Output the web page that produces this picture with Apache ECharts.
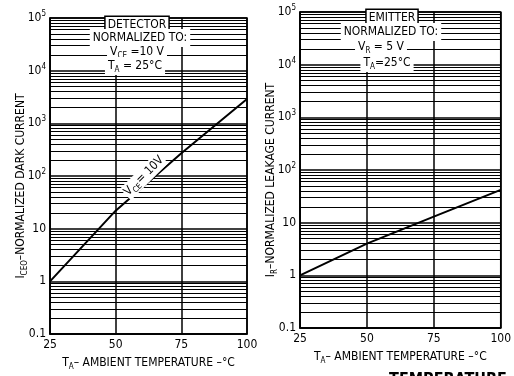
<!DOCTYPE html>
<html>
<head>
<meta charset="utf-8">
<script src="https://cdn.jsdelivr.net/npm/echarts@6/dist/echarts.min.js"></script>
<style>
  html, body { margin: 0; padding: 0; background: #fff; }
  #chart { width: 514px; height: 376px; }
</style>
</head>
<body>
<div id="chart"></div>
<script>
// values
var temps = [25, 50, 75, 100];
var darkCurrent = [1, 22, 270, 2900];   // detector, I_CEO normalized
var leakCurrent = [1, 4, 13, 42];       // emitter, I_R normalized
var xTicks = [25, 50, 75, 100];
var decades = [0.1, 1, 10, 100, 1000, 10000];
var minorSteps = [2, 3, 4, 5, 6, 7, 8, 9];

var FONT = '"DejaVu Sans Condensed", "DejaVu Sans", sans-serif';

// semi-log paper lines between the decades
var minorLines = [];
decades.forEach(function (d) {
  minorSteps.forEach(function (m) { minorLines.push({ yAxis: +(d * m).toPrecision(3) }); });
});

function decadeLabel(v) {
  if (v < 0.5) return '{b|0.1}';
  if (v < 5) return '{b|1}';
  if (v < 50) return '{b|10}';
  return '{b|10}{s|' + Math.round(Math.log10(v)) + '}';
}

var labelRich = {
  b: { fontFamily: FONT, fontSize: 12, lineHeight: 16, color: '#000' },
  s: { fontFamily: FONT, fontSize: 8, verticalAlign: 'top', color: '#000' }
};
var nameRich = {
  b: { fontFamily: FONT, fontSize: 12, lineHeight: 16, color: '#000' },
  sub: { fontFamily: FONT, fontSize: 8, verticalAlign: 'bottom', color: '#000' }
};

function makeX(idx) {
  return {
    type: 'value', gridIndex: idx, min: 25, max: 100, interval: 25,
    axisLine: { show: true, lineStyle: { color: '#000', width: 1.5 } },
    axisTick: { show: false },
    splitLine: { show: true, lineStyle: { color: '#000', width: 1.5 } },
    axisLabel: {
      color: '#000', fontFamily: FONT, fontSize: 12, margin: 5,
      formatter: function (v) { return xTicks.indexOf(v) >= 0 ? String(v) : ''; }
    },
    name: '{b|T}{sub|A}{b|– AMBIENT TEMPERATURE –°C}',
    nameLocation: 'middle', nameGap: 21,
    nameTextStyle: { rich: nameRich }
  };
}

function makeY(idx, name) {
  return {
    type: 'log', logBase: 10, gridIndex: idx, min: 0.1, max: 100000, splitNumber: 6,
    axisLine: { show: true, lineStyle: { color: '#000', width: 1.5 } },
    axisTick: { show: false },
    splitLine: { show: true, lineStyle: { color: '#000', width: 1.5 } },
    axisLabel: { formatter: decadeLabel, rich: labelRich, margin: 4 },
    name: name, nameLocation: 'middle', nameGap: 21, nameMoveOverlap: false,
    nameTextStyle: { rich: nameRich, padding: [0, 20, 0, 0] }
  };
}

function makeSeries(idx, values) {
  return {
    type: 'line', xAxisIndex: idx, yAxisIndex: idx,
    data: temps.map(function (t, i) { return [t, values[i]]; }),
    symbol: 'none', silent: true,
    lineStyle: { color: '#000', width: 2 },
    markLine: {
      silent: true, symbol: 'none', label: { show: false },
      lineStyle: { color: '#000', width: 1, type: 'solid' },
      data: minorLines
    }
  };
}

function note(text, x, y, extra) {
  var style = {
    text: text, align: 'center', verticalAlign: 'middle',
    font: '12px ' + FONT, fill: '#000',
    backgroundColor: '#fff', padding: [1, 3],
    rich: nameRich
  };
  for (var k in extra) style[k] = extra[k];
  return { type: 'text', x: x, y: y, z: 100, style: style };
}

var chart = echarts.init(document.getElementById('chart'));
chart.setOption({
  backgroundColor: '#fff',
  animation: false,
  grid: [
    { left: 50, right: 267, top: 18, bottom: 40, show: true, borderColor: '#000', borderWidth: 1.5, backgroundColor: '#fff' },
    { left: 300, right: 12, top: 12, bottom: 48, show: true, borderColor: '#000', borderWidth: 1.5, backgroundColor: '#fff' }
  ],
  xAxis: [makeX(0), makeX(1)],
  yAxis: [
    makeY(0, '{b|I}{sub|CEO}{b|–NORMALIZED DARK CURRENT}'),
    makeY(1, '{b|I}{sub|R}{b|–NORMALIZED LEAKAGE CURRENT}')
  ],
  series: [makeSeries(0, darkCurrent), makeSeries(1, leakCurrent)],
  graphic: [
    note('{b|DETECTOR}', 137, 25, { borderColor: '#000', borderWidth: 1.5, padding: [0, 2] }),
    note('{b|NORMALIZED TO:}', 140, 38),
    note('{b|V}{sub|CE}{b| =10 V}', 137, 52),
    note('{b|T}{sub|A}{b| = 25°C}', 135, 66),
    note('{b|EMITTER}', 392, 18, { borderColor: '#000', borderWidth: 1.5, padding: [0, 2] }),
    note('{b|NORMALIZED TO:}', 391, 32),
    note('{b|V}{sub|R}{b| = 5 V}', 381, 47),
    note('{b|T}{sub|A}{b|=25°C}', 387, 63),
    {
      type: 'text', x: 144, y: 176, rotation: 45 * Math.PI / 180, z: 100,
      style: {
        text: '{b|V}{sub|CE}{b|= 10V}', align: 'center', verticalAlign: 'middle',
        rich: nameRich, backgroundColor: '#fff', padding: [0, 1]
      }
    },
    {
      type: 'text', x: 448, y: 372, z: 100,
      style: { text: 'TEMPERATURE', align: 'center', verticalAlign: 'top', font: 'bold 16px ' + FONT, fill: '#000' }
    }
  ]
});
</script>
</body>
</html>
